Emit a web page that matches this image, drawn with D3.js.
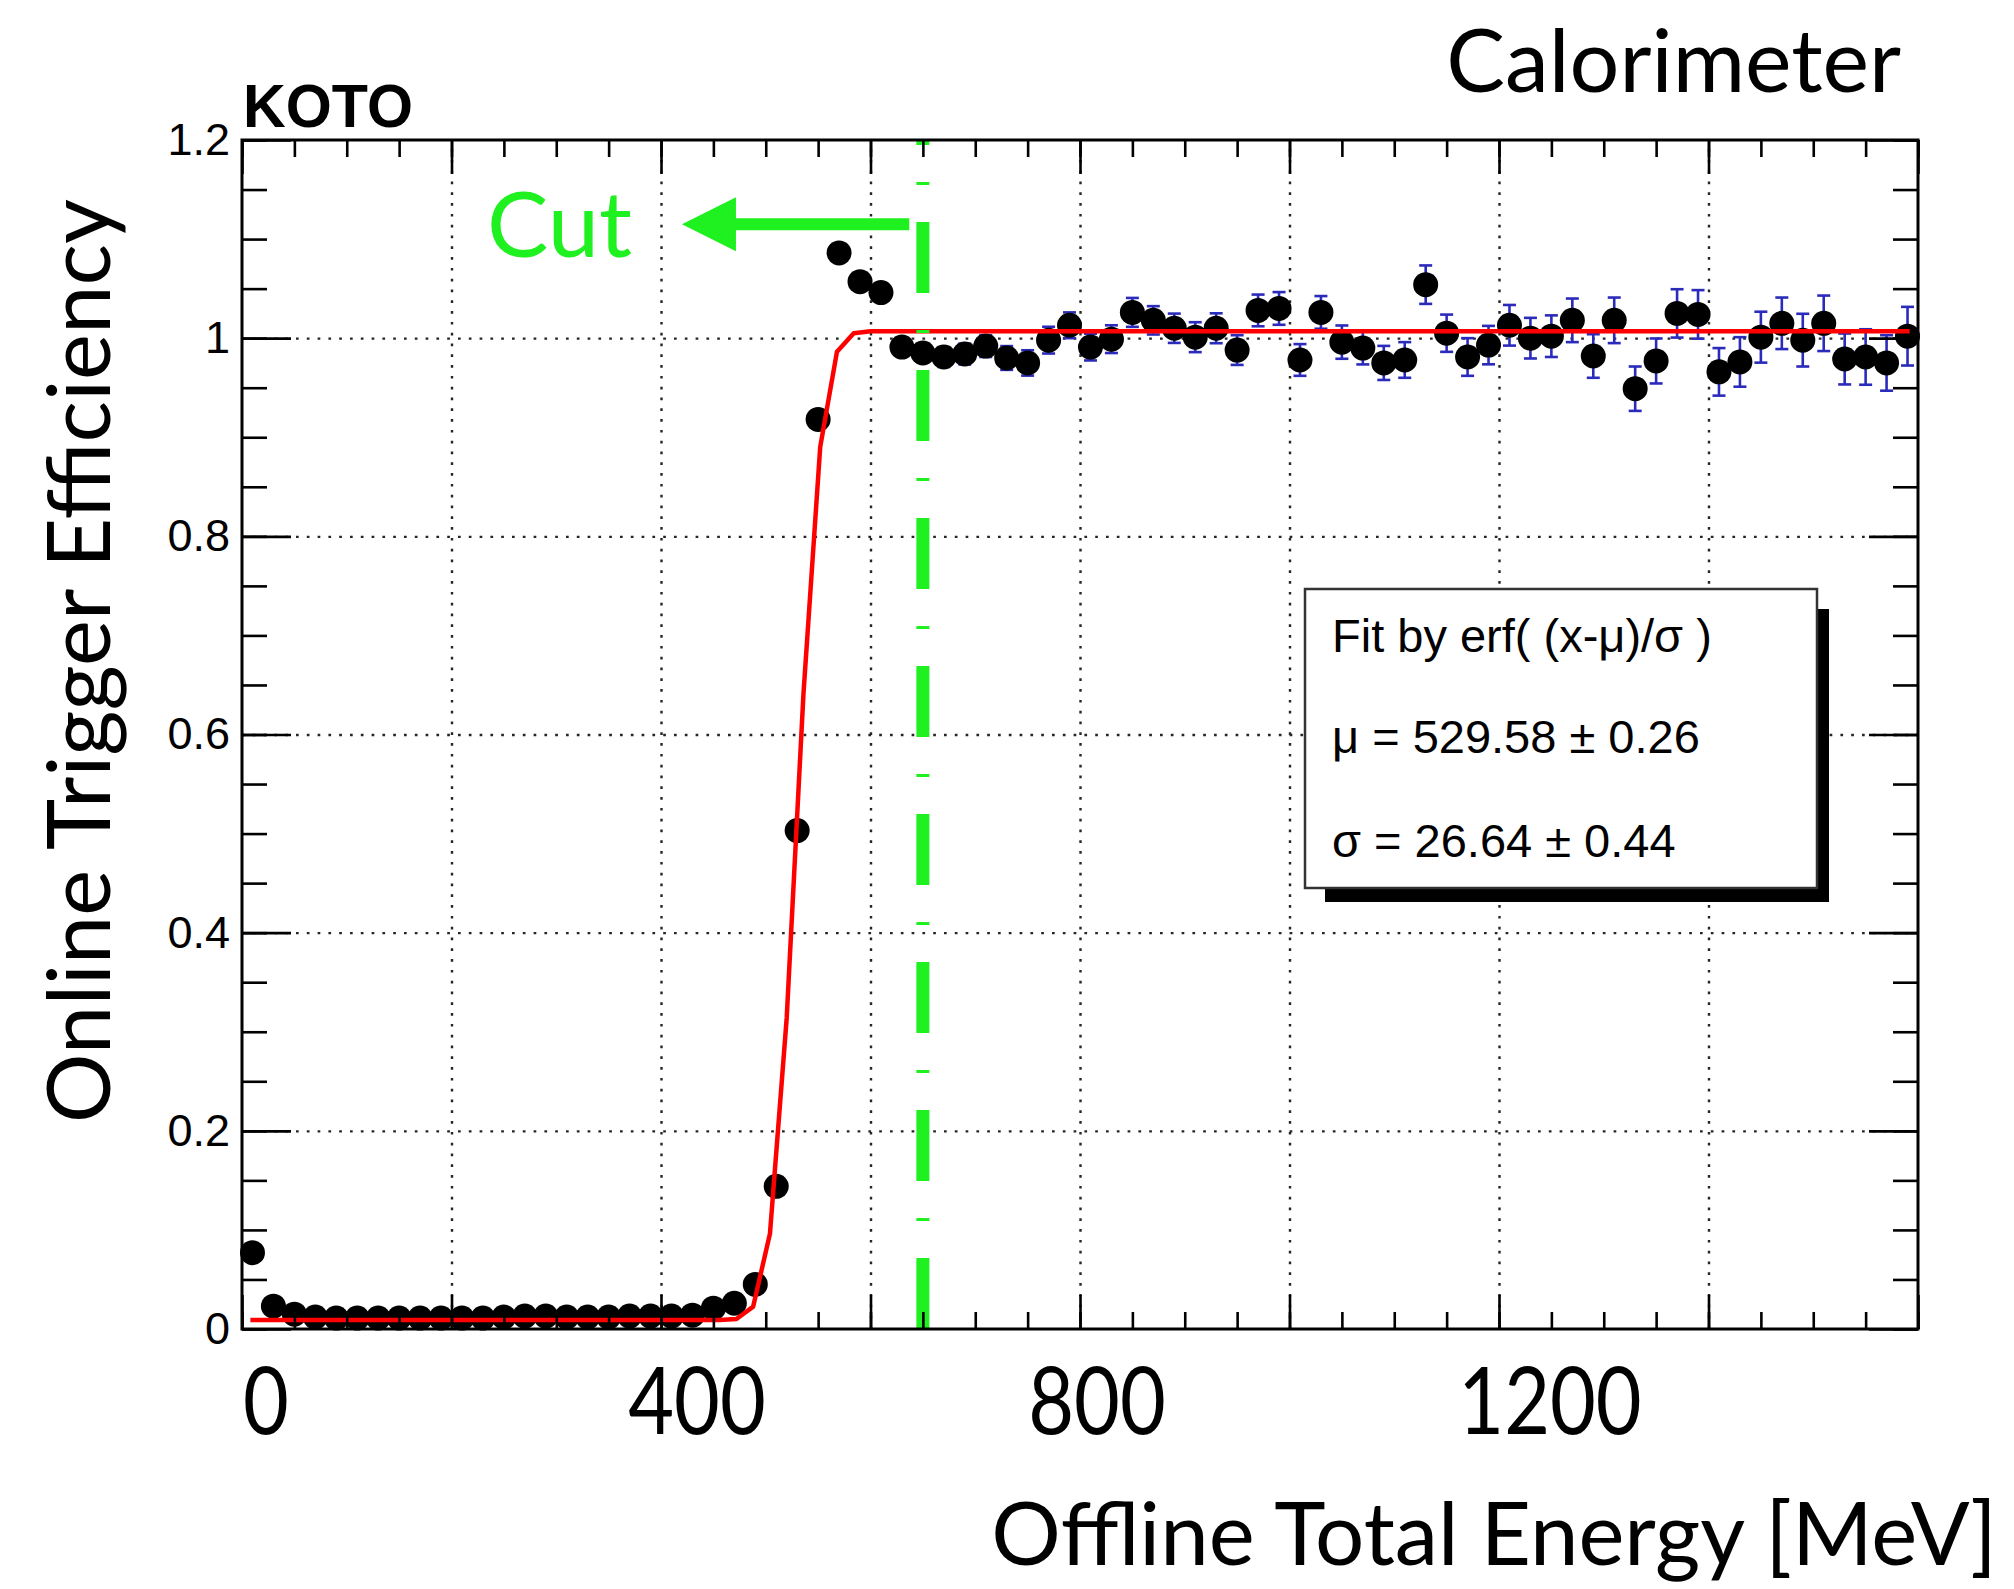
<!DOCTYPE html>
<html>
<head>
<meta charset="utf-8">
<script src="https://cdn.jsdelivr.net/npm/d3@7"></script>
<style>
  html, body { margin: 0; padding: 0; background: #fff; }
  svg { display: block; }
</style>
</head>
<body>
<script>
// Online trigger efficiency of the calorimeter total-energy trigger, 20 MeV bins.
const energyBins = [
  10, 30, 50, 70, 90, 110, 130, 150, 170, 190,
  210, 230, 250, 270, 290, 310, 330, 350, 370, 390,
  410, 430, 450, 470, 490, 510, 530, 550, 570, 590,
  610, 630, 650, 670, 690, 710, 730, 750, 770, 790,
  810, 830, 850, 870, 890, 910, 930, 950, 970, 990,
  1010, 1030, 1050, 1070, 1090, 1110, 1130, 1150, 1170, 1190,
  1210, 1230, 1250, 1270, 1290, 1310, 1330, 1350, 1370, 1390,
  1410, 1430, 1450, 1470, 1490, 1510, 1530, 1550, 1570, 1590
];
const efficiency = [
  0.077, 0.023, 0.015, 0.012, 0.011, 0.011, 0.011, 0.011, 0.011, 0.011,
  0.011, 0.011, 0.012, 0.013, 0.013, 0.012, 0.012, 0.012, 0.013, 0.013,
  0.013, 0.014, 0.021, 0.026, 0.045, 0.144, 0.503, 0.918, 1.086, 1.057,
  1.046, 0.991, 0.985, 0.981, 0.984, 0.992, 0.980, 0.975, 0.998, 1.013,
  0.991, 0.999, 1.026, 1.018, 1.010, 1.001, 1.010, 0.988, 1.028, 1.030,
  0.978, 1.026, 0.996, 0.990, 0.975, 0.978, 1.054, 1.005, 0.981, 0.993,
  1.013, 1.000, 1.002, 1.018, 0.982, 1.018, 0.949, 0.977, 1.025, 1.024,
  0.966, 0.976, 1.001, 1.015, 0.998, 1.015, 0.979, 0.981, 0.975, 1.002
];
const efficiencyErr = [
  0.004, 0.002, 0.002, 0.002, 0.002, 0.002, 0.002, 0.002, 0.002, 0.002,
  0.002, 0.002, 0.002, 0.002, 0.002, 0.002, 0.002, 0.002, 0.002, 0.002,
  0.002, 0.002, 0.003, 0.003, 0.004, 0.006, 0.007, 0.006, 0.008, 0.008,
  0.008, 0.009, 0.0095, 0.010, 0.0105, 0.011, 0.012, 0.0128, 0.0135, 0.013,
  0.0135, 0.014, 0.0146, 0.0143, 0.0148, 0.0151, 0.0151, 0.015, 0.016, 0.0165,
  0.016, 0.0165, 0.0168, 0.0165, 0.0172, 0.018, 0.0194, 0.0188, 0.019, 0.0194,
  0.0205, 0.0205, 0.021, 0.022, 0.022, 0.023, 0.0224, 0.0227, 0.0244, 0.0245,
  0.024, 0.025, 0.0257, 0.026, 0.0266, 0.028, 0.0257, 0.028, 0.028, 0.0296
];

// Axis ticks and labels
const xTickValues = [0, 400, 800, 1200];
const xTickLabels = ["0", "400", "800", "1200"];
const yTickValues = [0, 0.2, 0.4, 0.6, 0.8, 1.0, 1.2];
const yTickLabels = ["0", "0.2", "0.4", "0.6", "0.8", "1", "1.2"];

// Error-function fit results
const fitMu = 529.58, fitMuErr = 0.26;
const fitSigma = 26.64, fitSigmaErr = 0.44;
const fitFloor = 0.009, fitPlateau = 1.007;
const fitRange = [8, 1592];
const fitPoints = 100;

// Energy cut
const cutEnergy = 650;
const cutArrow = { tip: 420, tail: 637, level: 1.115 };
const cutLabelPos = { x: 234, y: 1.082 };

// ---------- layout ----------
const W = 2014, H = 1589;
const frame = { left: 242, right: 1918, top: 140, bottom: 1329 };
const GREEN = "#1ff01f";
const TITLE_FONT = "Lato, 'Open Sans', sans-serif";
const HELV = "'Liberation Sans', Arial, Helvetica, sans-serif";

const svg = d3.select("body").append("svg")
  .attr("width", W).attr("height", H)
  .attr("viewBox", `0 0 ${W} ${H}`);

svg.append("rect").attr("width", W).attr("height", H).attr("fill", "#fff");

const x = d3.scaleLinear().domain([0, 1600]).range([frame.left, frame.right]);
const y = d3.scaleLinear().domain([0, 1.2]).range([frame.bottom, frame.top]);
const plotH = frame.bottom - frame.top;
const plotW = frame.right - frame.left;

// ---------- dotted grid ----------
const gridX = [200, 400, 600, 800, 1000, 1200, 1400];
const gridY = [0.2, 0.4, 0.6, 0.8, 1.0];

function styleGrid(g) {
  g.select(".domain").remove();
  g.selectAll("text").remove();
  g.selectAll("line")
    .attr("stroke", "#262626")
    .attr("stroke-width", 2.4)
    .attr("stroke-dasharray", "2.7 8.1");
}
svg.append("g")
  .attr("transform", `translate(0,${frame.bottom})`)
  .call(d3.axisBottom(x).tickValues(gridX).tickSize(-plotH).tickFormat(""))
  .call(styleGrid);
svg.append("g")
  .attr("transform", `translate(${frame.left},0)`)
  .call(d3.axisLeft(y).tickValues(gridY).tickSize(-plotW).tickFormat(""))
  .call(styleGrid);

// ---------- data: error bars and markers ----------
const points = energyBins.map((e, i) => ({ e, v: efficiency[i], err: efficiencyErr[i] }));
const capHalf = 6.5;
const errG = svg.append("g")
  .attr("stroke", "#2b2bbb")
  .attr("stroke-width", 2.6);
errG.selectAll("line.bar").data(points).join("line")
  .attr("class", "bar")
  .attr("x1", d => x(d.e)).attr("x2", d => x(d.e))
  .attr("y1", d => y(d.v - d.err)).attr("y2", d => y(d.v + d.err));
errG.selectAll("line.capHi").data(points).join("line")
  .attr("class", "capHi")
  .attr("x1", d => x(d.e) - capHalf).attr("x2", d => x(d.e) + capHalf)
  .attr("y1", d => y(d.v + d.err)).attr("y2", d => y(d.v + d.err));
errG.selectAll("line.capLo").data(points).join("line")
  .attr("class", "capLo")
  .attr("x1", d => x(d.e) - capHalf).attr("x2", d => x(d.e) + capHalf)
  .attr("y1", d => y(d.v - d.err)).attr("y2", d => y(d.v - d.err));

svg.append("g").selectAll("circle").data(points).join("circle")
  .attr("cx", d => x(d.e))
  .attr("cy", d => y(d.v))
  .attr("r", 12.5)
  .attr("fill", "#000");

// ---------- fit curve ----------
function erf(z) {
  const s = z < 0 ? -1 : 1;
  const a = Math.abs(z);
  const t = 1 / (1 + 0.3275911 * a);
  const p = ((((1.061405429 * t - 1.453152027) * t + 1.421413741) * t - 0.284496736) * t + 0.254829592) * t;
  return s * (1 - p * Math.exp(-a * a));
}
const fitFn = e => fitFloor + (fitPlateau - fitFloor) * 0.5 * (1 + erf((e - fitMu) / fitSigma));
const step = (fitRange[1] - fitRange[0]) / (fitPoints - 1);
const fitCurve = d3.range(fitPoints).map(i => {
  const e = fitRange[0] + i * step;
  return [e, fitFn(e)];
});
svg.append("path")
  .datum(fitCurve)
  .attr("fill", "none")
  .attr("stroke", "#ff0000")
  .attr("stroke-width", 4.5)
  .attr("stroke-linejoin", "round")
  .attr("d", d3.line().x(d => x(d[0])).y(d => y(d[1])));

// ---------- energy cut ----------
svg.append("line")
  .attr("x1", x(cutEnergy)).attr("x2", x(cutEnergy))
  .attr("y1", y(0)).attr("y2", y(1.2))
  .attr("stroke", GREEN)
  .attr("stroke-width", 13)
  .attr("stroke-dasharray", "71 37 3 37");

{
  const tipX = x(cutArrow.tip), tailX = x(cutArrow.tail), cy = y(cutArrow.level);
  const backX = tipX + 54, headHalf = 27, shaftHalf = 6;
  svg.append("polygon")
    .attr("fill", GREEN)
    .attr("points", [
      [tipX, cy], [backX, cy - headHalf], [backX, cy - shaftHalf], [tailX, cy - shaftHalf],
      [tailX, cy + shaftHalf], [backX, cy + shaftHalf], [backX, cy + headHalf]
    ].map(p => p.join(",")).join(" "));
}
svg.append("text")
  .attr("x", x(cutLabelPos.x)).attr("y", y(cutLabelPos.y))
  .attr("font-family", TITLE_FONT)
  .attr("font-size", 92)
  .attr("fill", GREEN)
  .text("Cut");

// ---------- frame ticks ----------
const xMinor = d3.range(0, 1601, 50);
const xMajor = d3.range(0, 1601, 200);
const yMinor = d3.range(0, 25).map(i => +(i * 0.05).toFixed(2));
const yMajor = yTickValues;

function styleTicks(g) {
  g.select(".domain").remove();
  g.selectAll("text").remove();
  g.selectAll("line").attr("stroke", "#000").attr("stroke-width", 2.6);
}
const tickSets = [
  { axis: d3.axisBottom, pos: `translate(0,${frame.bottom})`, scale: x, vals: xMinor, len: 17 },
  { axis: d3.axisBottom, pos: `translate(0,${frame.bottom})`, scale: x, vals: xMajor, len: 34 },
  { axis: d3.axisTop, pos: `translate(0,${frame.top})`, scale: x, vals: xMinor, len: 17 },
  { axis: d3.axisTop, pos: `translate(0,${frame.top})`, scale: x, vals: xMajor, len: 34 },
  { axis: d3.axisLeft, pos: `translate(${frame.left},0)`, scale: y, vals: yMinor, len: 25 },
  { axis: d3.axisLeft, pos: `translate(${frame.left},0)`, scale: y, vals: yMajor, len: 49 },
  { axis: d3.axisRight, pos: `translate(${frame.right},0)`, scale: y, vals: yMinor, len: 25 },
  { axis: d3.axisRight, pos: `translate(${frame.right},0)`, scale: y, vals: yMajor, len: 49 }
];
tickSets.forEach(t => {
  svg.append("g").attr("transform", t.pos)
    .call(t.axis(t.scale).tickValues(t.vals).tickSize(-t.len).tickFormat(""))
    .call(styleTicks);
});

svg.append("rect")
  .attr("x", frame.left).attr("y", frame.top)
  .attr("width", plotW).attr("height", plotH)
  .attr("fill", "none").attr("stroke", "#000").attr("stroke-width", 3);

// ---------- y tick labels ----------
const yLab = svg.append("g")
  .attr("transform", `translate(${frame.left},0)`)
  .call(d3.axisLeft(y).tickValues(yTickValues).tickSize(0).tickPadding(12)
    .tickFormat((d, i) => yTickLabels[i]));
yLab.select(".domain").remove();
yLab.selectAll("text")
  .attr("font-family", HELV)
  .attr("font-size", 45)
  .attr("fill", "#000");

// ---------- x tick labels (large, condensed, hand-placed under the axis) ----------
const xLabelNudge = [24, 36, 17, 51];
svg.append("g").selectAll("text").data(xTickValues).join("text")
  .attr("transform", (d, i) => `translate(${x(d) + xLabelNudge[i]},1434) scale(0.85,1)`)
  .attr("text-anchor", "middle")
  .attr("font-family", TITLE_FONT)
  .attr("font-size", 93)
  .attr("fill", "#000")
  .text((d, i) => xTickLabels[i]);

// ---------- titles ----------
svg.append("text")
  .attr("x", 1997).attr("y", 1565)
  .attr("text-anchor", "end")
  .attr("font-family", TITLE_FONT)
  .attr("font-size", 87)
  .attr("fill", "#000")
  .text("Offline Total Energy [MeV]");

svg.append("text")
  .attr("transform", "translate(110,661) rotate(-90)")
  .attr("text-anchor", "middle")
  .attr("font-family", TITLE_FONT)
  .attr("font-size", 87)
  .attr("fill", "#000")
  .text("Online Trigger Efficiency");

svg.append("text")
  .attr("x", 1901).attr("y", 92)
  .attr("text-anchor", "end")
  .attr("font-family", TITLE_FONT)
  .attr("font-size", 88)
  .attr("fill", "#000")
  .text("Calorimeter");

svg.append("text")
  .attr("x", 243).attr("y", 127)
  .attr("font-family", HELV)
  .attr("font-weight", "bold")
  .attr("font-size", 61)
  .attr("textLength", 170)
  .attr("lengthAdjust", "spacingAndGlyphs")
  .attr("fill", "#000")
  .text("KOTO");

// ---------- fit result box ----------
const box = { x0: 1305, y0: 589, x1: 1817, y1: 888, shadow: 12, shadowY: 14, inset: 20 };
svg.append("rect")
  .attr("x", box.x1).attr("y", box.y0 + box.inset)
  .attr("width", box.shadow).attr("height", box.y1 - box.y0 - box.inset + box.shadowY)
  .attr("fill", "#000");
svg.append("rect")
  .attr("x", box.x0 + box.inset).attr("y", box.y1)
  .attr("width", box.x1 - box.x0 - box.inset + box.shadow).attr("height", box.shadowY)
  .attr("fill", "#000");
svg.append("rect")
  .attr("x", box.x0).attr("y", box.y0)
  .attr("width", box.x1 - box.x0).attr("height", box.y1 - box.y0)
  .attr("fill", "#fff").attr("stroke", "#333").attr("stroke-width", 2.5);

const boxLines = [
  "Fit by erf( (x-\u03bc)/\u03c3 )",
  `\u03bc = ${fitMu.toFixed(2)} \u00b1 ${fitMuErr.toFixed(2)}`,
  `\u03c3 = ${fitSigma.toFixed(2)} \u00b1 ${fitSigmaErr.toFixed(2)}`
];
const boxBaselines = [652, 753, 857];
svg.append("g").selectAll("text").data(boxLines).join("text")
  .attr("x", 1332)
  .attr("y", (d, i) => boxBaselines[i])
  .attr("font-family", HELV)
  .attr("font-size", 47)
  .attr("fill", "#000")
  .text(d => d);
</script>
</body>
</html>
